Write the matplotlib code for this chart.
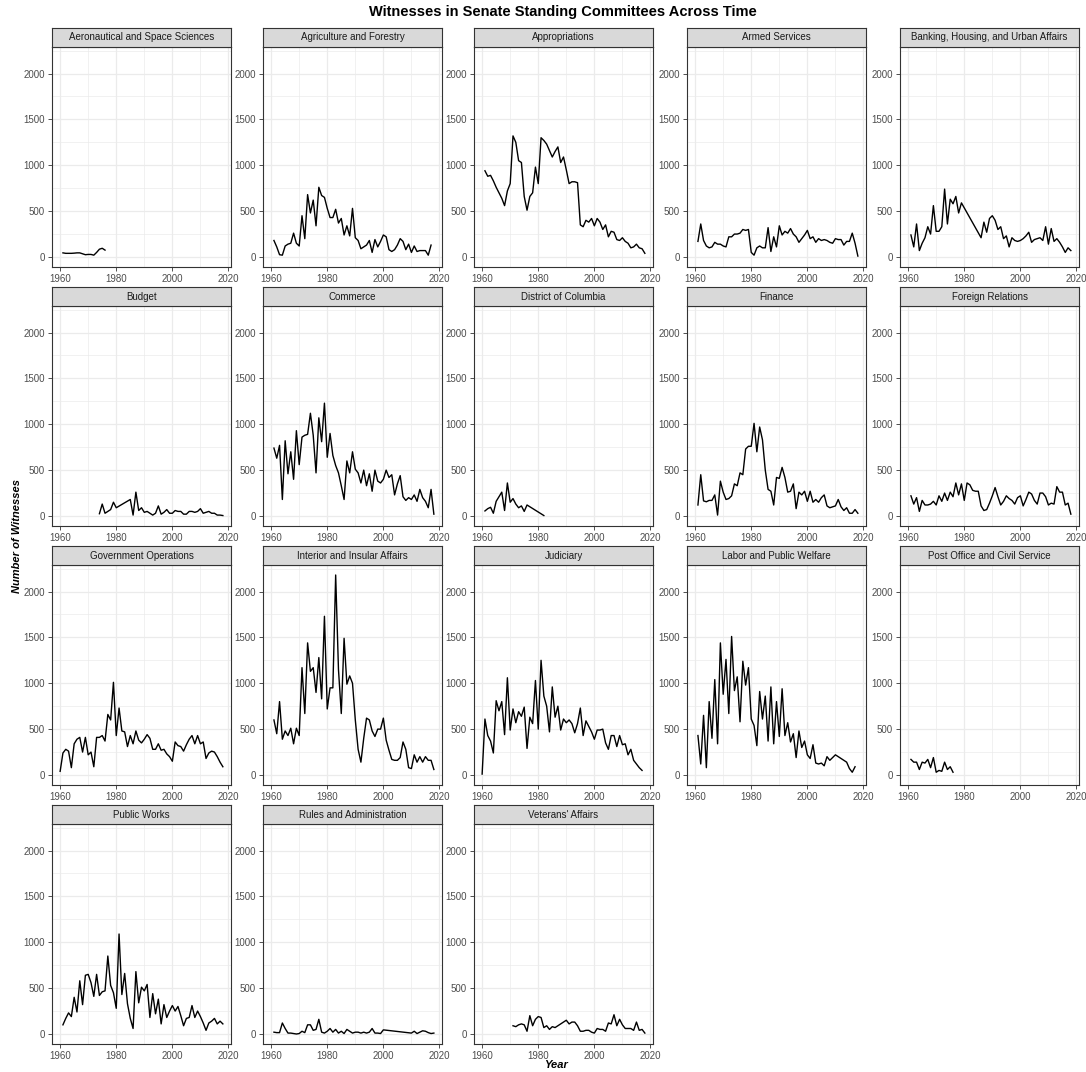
import matplotlib
matplotlib.use("Agg")
import matplotlib.pyplot as plt
from matplotlib.ticker import MultipleLocator, FixedLocator

plt.rcParams['font.family'] = ['Liberation Sans', 'DejaVu Sans']

# ---------------- data ----------------
aero_years = list(range(1961, 1977))
aero_vals = [45, 40, 40, 40, 42, 45, 45, 35, 25, 28, 28, 20, 50, 85, 95, 75]

agri_years = list(range(1961, 2018))
agri_vals = [180, 110, 25, 20, 120, 140, 150, 260, 150, 120,
             450, 200, 680, 480, 620, 340, 760, 670, 650, 530,
             430, 430, 520, 370, 420, 240, 340, 230, 530, 210,
             180, 90, 110, 130, 180, 50, 190, 110, 170, 240,
             220, 80, 60, 80, 130, 200, 170, 80, 140, 50,
             120, 60, 70, 70, 70, 20, 130]

approp_years = list(range(1961, 2019))
approp_vals = [940, 880, 890, 830, 760, 700, 640, 560, 720, 800,
               1320, 1250, 1050, 1030, 660, 510, 660, 700, 980, 800,
               1300, 1270, 1230, 1160, 1090, 1150, 1200, 1030, 1090, 950,
               800, 820, 820, 810, 350, 330, 400, 380, 420, 340,
               420, 380, 300, 350, 220, 280, 270, 190, 180, 210,
               170, 150, 100, 110, 140, 100, 90, 40]

armed_years = list(range(1961, 2019))
armed_vals = [170, 360, 180, 120, 100, 110, 160, 140, 140, 120,
              110, 220, 220, 250, 250, 260, 300, 290, 300, 50,
              20, 100, 120, 100, 100, 320, 60, 220, 110, 340,
              240, 280, 260, 310, 250, 220, 160, 200, 240, 290,
              200, 220, 160, 200, 180, 190, 180, 160, 150, 200,
              190, 190, 130, 170, 170, 260, 150, 10]

bank_years = list(range(1961, 1980)) + list(range(1986, 2019))
bank_vals = [240, 110, 360, 70, 150, 210, 330, 250, 560, 280,
             280, 330, 740, 360, 630, 580, 660, 480, 590,
             210, 380, 270, 420, 450, 400, 300, 330, 200, 230,
             110, 210, 180, 170, 180, 200, 230, 270, 160, 190,
             200, 210, 180, 330, 140, 310, 170, 200, 160, 110,
             50, 100, 70]

budget_years = list(range(1974, 1981)) + list(range(1985, 2019))
budget_vals = [25, 130, 30, 50, 70, 150, 90,
               180, 10, 260, 60, 90, 40, 50, 30, 10, 30,
               110, 20, 40, 70, 30, 30, 60, 50, 50, 20,
               20, 50, 50, 40, 50, 80, 30, 40, 50, 30,
               30, 10, 10, 5]

commerce_years = list(range(1961, 2019))
commerce_vals = [740, 630, 770, 180, 820, 460, 700, 400, 930, 560,
                 860, 880, 890, 1120, 880, 470, 1070, 810, 1230, 640,
                 900, 660, 550, 470, 330, 180, 600, 470, 700, 510,
                 470, 360, 500, 330, 460, 270, 500, 380, 360, 400,
                 500, 420, 450, 230, 350, 440, 210, 170, 200, 180,
                 230, 160, 290, 200, 160, 90, 290, 20]

dc_years = list(range(1961, 1977)) + [1982]
dc_vals = [55, 80, 95, 30, 160, 210, 260, 60, 360, 150,
           190, 130, 90, 110, 50, 120, 5]

finance_years = list(range(1961, 2019))
finance_vals = [120, 450, 165, 155, 170, 170, 230, 10, 380, 260,
                180, 190, 220, 350, 330, 470, 450, 730, 760, 760,
                1010, 700, 970, 830, 500, 290, 270, 120, 420, 410,
                530, 420, 260, 270, 350, 80, 260, 230, 270, 160,
                270, 150, 180, 150, 200, 230, 110, 90, 100, 110,
                180, 100, 60, 90, 30, 30, 70, 30]

foreign_years = list(range(1961, 2019))
foreign_vals = [220, 130, 200, 50, 170, 120, 120, 130, 160, 120,
                220, 160, 250, 170, 260, 210, 360, 230, 350, 170,
                360, 340, 280, 270, 270, 110, 60, 70, 140, 220,
                310, 210, 120, 160, 220, 190, 170, 130, 200, 220,
                110, 180, 260, 240, 170, 130, 250, 250, 210, 120,
                140, 130, 320, 260, 260, 120, 140, 20]

govops_years = list(range(1960, 2019))
govops_vals = [40, 240, 280, 260, 80, 340, 390, 410, 250, 410,
               220, 250, 90, 410, 410, 430, 370, 660, 600, 1010,
               430, 730, 480, 470, 310, 430, 340, 480, 380, 350,
               390, 440, 400, 280, 280, 340, 270, 280, 230, 200,
               150, 360, 320, 310, 260, 330, 390, 430, 340, 430,
               340, 360, 180, 240, 260, 250, 200, 140, 90]

interior_years = list(range(1961, 2019))
interior_vals = [600, 450, 800, 390, 480, 430, 510, 340, 510, 430,
                 1170, 670, 1440, 1130, 1170, 900, 1280, 830, 1730, 720,
                 950, 950, 2180, 1150, 670, 1490, 990, 1080, 1000, 600,
                 280, 140, 400, 620, 600, 480, 420, 500, 500, 620,
                 380, 270, 170, 160, 160, 190, 360, 280, 80, 70,
                 220, 140, 200, 140, 200, 160, 160, 60]

judiciary_years = list(range(1960, 2018))
judiciary_vals = [10, 610, 430, 370, 240, 810, 700, 800, 440, 1060,
                  490, 720, 570, 690, 640, 740, 290, 630, 560, 1030,
                  500, 1250, 860, 750, 470, 960, 630, 750, 490, 610,
                  570, 600, 560, 460, 560, 730, 430, 590, 530, 470,
                  390, 490, 490, 500, 350, 280, 430, 430, 310, 430,
                  330, 340, 220, 280, 160, 120, 80, 50]

labor_years = list(range(1961, 2018))
labor_vals = [430, 120, 650, 80, 800, 400, 1040, 340, 1440, 880,
              1260, 670, 1510, 920, 1070, 580, 1240, 980, 1170, 610,
              540, 320, 910, 610, 860, 370, 960, 340, 800, 420,
              940, 430, 570, 360, 450, 190, 480, 300, 370, 220,
              180, 330, 130, 120, 130, 100, 200, 160, 190, 220,
              200, 180, 160, 140, 70, 30, 90]

post_years = list(range(1961, 1977))
post_vals = [170, 140, 140, 60, 140, 130, 170, 80, 190, 30,
             50, 40, 140, 60, 90, 30]

pubworks_years = list(range(1961, 2019))
pubworks_vals = [100, 170, 230, 190, 400, 240, 580, 320, 640, 650,
                 560, 410, 650, 420, 460, 470, 850, 530, 450, 280,
                 1090, 430, 660, 330, 170, 60, 680, 340, 510, 470,
                 540, 180, 440, 220, 380, 110, 320, 180, 250, 310,
                 250, 300, 200, 90, 170, 180, 310, 180, 250, 190,
                 120, 40, 120, 140, 170, 110, 140, 110]

rules_years = list(range(1961, 2001)) + list(range(2010, 2019))
rules_vals = [20, 15, 15, 120, 60, 10, 10, 5, 0, 5,
              30, 15, 100, 100, 40, 50, 160, 20, 10, 30,
              60, 20, 50, 10, 30, 5, 50, 30, 10, 20,
              20, 10, 20, 10, 20, 60, 10, 10, 5, 45,
              10, 30, 5, 20, 35, 30, 15, 5, 10]

vets_years = list(range(1971, 2019))
vets_vals = [90, 80, 100, 110, 100, 30, 200, 90, 160, 190,
             180, 70, 90, 50, 80, 70, 90, 110, 130, 150,
             110, 130, 130, 90, 30, 30, 40, 40, 20, 10,
             60, 50, 50, 30, 120, 110, 210, 90, 160, 100,
             60, 60, 60, 40, 130, 40, 50, 10]

committees = ["Aeronautical and Space Sciences", "Agriculture and Forestry",
              "Appropriations", "Armed Services",
              "Banking, Housing, and Urban Affairs", "Budget", "Commerce",
              "District of Columbia", "Finance", "Foreign Relations",
              "Government Operations", "Interior and Insular Affairs",
              "Judiciary", "Labor and Public Welfare",
              "Post Office and Civil Service", "Public Works",
              "Rules and Administration", "Veterans' Affairs"]
series_years = [aero_years, agri_years, approp_years, armed_years, bank_years,
                budget_years, commerce_years, dc_years, finance_years,
                foreign_years, govops_years, interior_years, judiciary_years,
                labor_years, post_years, pubworks_years, rules_years, vets_years]
series_vals = [aero_vals, agri_vals, approp_vals, armed_vals, bank_vals,
               budget_vals, commerce_vals, dc_vals, finance_vals,
               foreign_vals, govops_vals, interior_vals, judiciary_vals,
               labor_vals, post_vals, pubworks_vals, rules_vals, vets_vals]

x_ticks = [1960, 1980, 2000, 2020]
y_ticks = [0, 500, 1000, 1500, 2000]

# ---------------- layout ----------------
W, H = 1086, 1072
fig = plt.figure(figsize=(W / 100, H / 100), dpi=100)
fig.patch.set_facecolor("white")

col_left = [52, 263, 474, 687, 900]
row_top = [28, 287, 546, 805]
pw, ph, sh = 179, 220, 19

all_years = [y for ys in series_years for y in ys]
all_vals = [v for vs in series_vals for v in vs]
xmin, xmax = min(all_years), max(all_years)
ymin, ymax = min(all_vals), max(all_vals)
xpad = (xmax - xmin) * 0.05
ypad = (ymax - ymin) * 0.05

border = "#333333"
grid_c = "#EBEBEB"

for i, (name, ys, vs) in enumerate(zip(committees, series_years, series_vals)):
    r, c = divmod(i, 5)
    left = col_left[c]
    top = row_top[r]
    ax = fig.add_axes([left / W, 1 - (top + sh + ph) / H, pw / W, ph / H])
    ax.plot(ys, vs, color="black", lw=1.0, solid_joinstyle="round")
    ax.set_xlim(xmin - xpad, xmax + xpad)
    ax.set_ylim(ymin - ypad, ymax + ypad)
    ax.xaxis.set_major_locator(FixedLocator(x_ticks))
    ax.xaxis.set_minor_locator(MultipleLocator(10))
    ax.yaxis.set_major_locator(FixedLocator(y_ticks))
    ax.yaxis.set_minor_locator(MultipleLocator(250))
    ax.grid(which="major", color=grid_c, lw=0.9)
    ax.grid(which="minor", color=grid_c, lw=0.5)
    ax.set_axisbelow(True)
    ax.tick_params(which="major", direction="out", length=3, width=0.6,
                   color=border, labelsize=7, labelcolor="#4D4D4D", pad=2)
    ax.tick_params(which="minor", length=0)
    for s in ax.spines.values():
        s.set_color(border)
        s.set_linewidth(0.8)
    # strip
    sax = fig.add_axes([left / W, 1 - (top + sh) / H, pw / W, sh / H])
    sax.set_facecolor("#D9D9D9")
    sax.set_xticks([]); sax.set_yticks([])
    for s in sax.spines.values():
        s.set_color(border)
        s.set_linewidth(0.8)
    sax.text(0.5, 0.5, name, ha="center", va="center", fontsize=7,
             color="#1A1A1A", transform=sax.transAxes)

fig.text(563 / W, 1 - 12 / H,
         "Witnesses in Senate Standing Committees Across Time",
         ha="center", va="center", fontsize=10.5, fontweight="bold")
fig.text(556 / W, 1 - 1065 / H, "Year", ha="center", va="center",
         fontsize=8, fontweight="bold", fontstyle="italic")
fig.text(17 / W, 1 - 536 / H, "Number of Witnesses", ha="center", va="center",
         rotation=90, fontsize=8, fontweight="bold", fontstyle="italic")

fig.savefig("out.png", dpi=100, facecolor="white")
